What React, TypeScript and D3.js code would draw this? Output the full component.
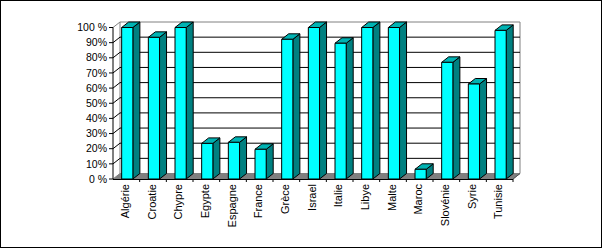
import React from "react";
import * as d3 from "d3";

const categories = ["Algérie", "Croatie", "Chypre", "Egypte", "Espagne", "France", "Grèce", "Israel", "Italie", "Libye", "Malte", "Maroc", "Slovénie", "Syrie", "Tunisie"];
const values = [100, 93.5, 100, 23.5, 24.2, 19.6, 92.2, 100, 89.6, 100, 100, 6.4, 77, 62.7, 98.1];
const yTicks = [0, 10, 20, 30, 40, 50, 60, 70, 80, 90, 100];
const yTickLabels = ["0 %", "10%", "20%", "30%", "40%", "50%", "60%", "70%", "80%", "90%", "100 %"];

const W = 603;
const H = 248;
const DX = 7;
const DY = 5.5;
const FONT = "'Liberation Sans', Arial, sans-serif";

export default function App() {
  const x = d3.scaleBand<string>().domain(categories).range([113, 513]).padding(0);
  const y = d3.scaleLinear().domain([0, 100]).range([179, 27.5]);
  const bw = x.bandwidth();
  const y0 = y(0);
  const left = x.range()[0];
  const right = x.range()[1];
  const poly = (pts: [number, number][]) => pts.map((p) => p.join(",")).join(" ");

  return (
    <svg width={W} height={H} style={{ position: "absolute", left: 0, top: 0, background: "#fff" }}>
      <rect x={0.5} y={0.5} width={601} height={247} fill="#fff" stroke="#000" strokeWidth={1} />
      {/* floor */}
      <polygon
        points={poly([[left, y0], [right, y0], [right + DX, y0 - DY], [left + DX, y0 - DY]])}
        fill="#808080"
        stroke="#808080"
        strokeWidth={1}
      />
      {/* back wall outline */}
      <line x1={left + DX} x2={left + DX} y1={y(100) - DY} y2={y0 - DY} stroke="#808080" />
      <line x1={right + DX} x2={right + DX} y1={y(100) - DY} y2={y0 - DY} stroke="#808080" />
      <line x1={left + DX} x2={right + DX} y1={y(100) - DY} y2={y(100) - DY} stroke="#808080" />
      <line x1={left} x2={left + DX} y1={y(100)} y2={y(100) - DY} stroke="#808080" />
      {/* gridlines */}
      {yTicks.filter((t) => t > 0 && t < 100).map((t) => (
        <g key={t}>
          <line x1={left + DX} x2={right + DX} y1={y(t) - DY} y2={y(t) - DY} stroke="#000" />
          <line x1={left} x2={left + DX} y1={y(t)} y2={y(t) - DY} stroke="#000" />
        </g>
      ))}
      {/* axes */}
      <line x1={left} x2={left} y1={y(100)} y2={y0} stroke="#000" />
      <line x1={left} x2={right} y1={y0 + 0.5} y2={y0 + 0.5} stroke="#000" />
      <line x1={right} x2={right + DX} y1={y0} y2={y0 - DY} stroke="#555" />
      {yTicks.map((t, i) => (
        <g key={t}>
          <line x1={left - 4} x2={left} y1={y(t)} y2={y(t)} stroke="#000" />
          <text x={107} y={y(t)} dy="0.35em" textAnchor="end" fontFamily={FONT} fontSize={10.5} fill="#000">
            {yTickLabels[i]}
          </text>
        </g>
      ))}
      {categories.map((c) => (
        <line key={"t" + c} x1={(x(c) as number) + bw} x2={(x(c) as number) + bw} y1={y0} y2={y0 + 3} stroke="#000" />
      ))}
      {/* bars */}
      {categories.map((c, i) => {
        const x0 = (x(c) as number) + bw * 0.325;
        const w = bw * 0.42;
        const yt = y(values[i]);
        return (
          <g key={c} stroke="#000" strokeWidth={1} strokeLinejoin="round">
            <polygon points={poly([[x0 + w, yt], [x0 + w + DX, yt - DY], [x0 + w + DX, y0 - DY], [x0 + w, y0]])} fill="#008080" />
            <polygon points={poly([[x0, yt], [x0 + DX, yt - DY], [x0 + w + DX, yt - DY], [x0 + w, yt]])} fill="#00B3B3" />
            <rect x={x0} y={yt} width={w} height={y0 - yt} fill="#00FFFF" />
          </g>
        );
      })}
      {/* category labels */}
      {categories.map((c) => (
        <text
          key={"l" + c}
          transform={`translate(${(x(c) as number) + bw / 2 + 2.5},${y0 + 5}) rotate(-90)`}
          textAnchor="end"
          fontFamily={FONT}
          fontSize={11}
          fill="#000"
        >
          {c}
        </text>
      ))}
    </svg>
  );
}
